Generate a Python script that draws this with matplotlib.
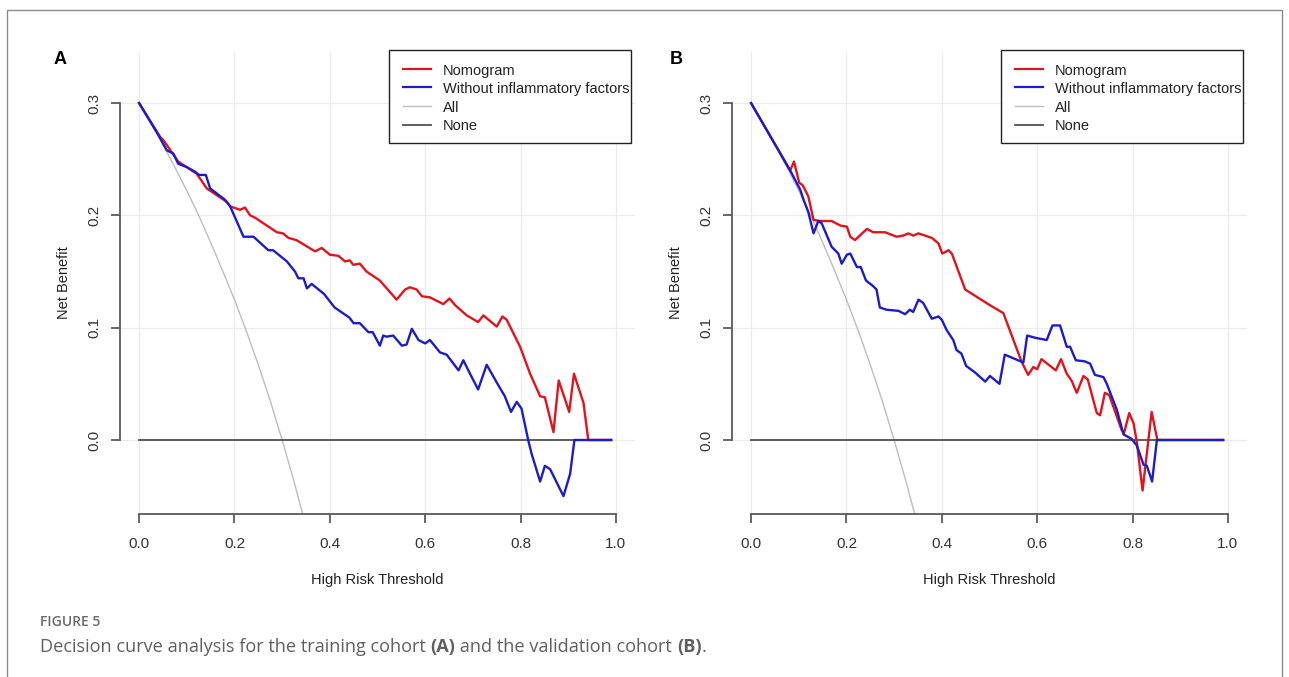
import matplotlib.pyplot as plt
from matplotlib.lines import Line2D
from matplotlib.patches import Rectangle

W, H = 1289, 677

# ---- data (threshold, net benefit) ----
all_x = [0.0, 0.025, 0.05, 0.075, 0.10, 0.125, 0.15, 0.175, 0.20, 0.225, 0.25,
         0.275, 0.30, 0.325, 0.35]
all_y = [0.300, 0.282, 0.263, 0.243, 0.222, 0.200, 0.176, 0.151, 0.125, 0.097,
         0.067, 0.035, 0.000, -0.037, -0.077]

none_x = [0.0, 0.99]
none_y = [0.0, 0.0]

# panel A: training cohort
a_nom_x = [0.0, 0.044, 0.051, 0.082, 0.121, 0.142, 0.184, 0.191, 0.212, 0.222, 0.233,
           0.243, 0.289, 0.302, 0.313, 0.330, 0.369, 0.383, 0.400, 0.418, 0.432, 0.442,
           0.449, 0.463, 0.477, 0.505, 0.540, 0.558, 0.568, 0.582, 0.593, 0.610, 0.638,
           0.651, 0.663, 0.687, 0.711, 0.722, 0.733, 0.750, 0.762, 0.771, 0.799, 0.820,
           0.841, 0.851, 0.869, 0.880, 0.902, 0.912, 0.932, 0.942, 0.99]
a_nom_y = [0.300, 0.270, 0.267, 0.248, 0.237, 0.224, 0.212, 0.208, 0.205, 0.207, 0.200,
           0.198, 0.185, 0.184, 0.180, 0.178, 0.168, 0.171, 0.165, 0.164, 0.159, 0.160,
           0.156, 0.157, 0.150, 0.142, 0.125, 0.134, 0.136, 0.134, 0.128, 0.127, 0.121,
           0.126, 0.120, 0.111, 0.105, 0.111, 0.107, 0.101, 0.110, 0.107, 0.083, 0.059,
           0.039, 0.038, 0.007, 0.053, 0.025, 0.059, 0.033, 0.000, 0.000]

a_wo_x = [0.0, 0.040, 0.058, 0.072, 0.082, 0.100, 0.117, 0.126, 0.140, 0.149, 0.180,
          0.191, 0.219, 0.240, 0.271, 0.281, 0.310, 0.327, 0.334, 0.345, 0.352, 0.362,
          0.388, 0.410, 0.441, 0.450, 0.463, 0.481, 0.490, 0.505, 0.512, 0.519, 0.533,
          0.551, 0.561, 0.572, 0.586, 0.600, 0.610, 0.631, 0.645, 0.670, 0.680, 0.694,
          0.711, 0.729, 0.753, 0.767, 0.780, 0.792, 0.802, 0.816, 0.823, 0.841, 0.851,
          0.862, 0.890, 0.904, 0.913, 0.99]
a_wo_y = [0.300, 0.272, 0.258, 0.255, 0.246, 0.243, 0.239, 0.236, 0.236, 0.224, 0.214,
          0.208, 0.181, 0.181, 0.169, 0.169, 0.159, 0.150, 0.144, 0.144, 0.135, 0.139,
          0.130, 0.118, 0.109, 0.104, 0.104, 0.096, 0.096, 0.084, 0.093, 0.092, 0.093,
          0.084, 0.085, 0.099, 0.089, 0.086, 0.089, 0.078, 0.076, 0.062, 0.071, 0.059,
          0.045, 0.067, 0.049, 0.039, 0.025, 0.034, 0.028, 0.000, -0.012, -0.037, -0.023,
          -0.026, -0.050, -0.030, 0.000, 0.000]

# panel B: validation cohort
b_nom_x = [0.0, 0.082, 0.090, 0.101, 0.108, 0.120, 0.131, 0.145, 0.169, 0.187, 0.201,
           0.208, 0.218, 0.243, 0.256, 0.281, 0.305, 0.319, 0.330, 0.340, 0.351, 0.379,
           0.393, 0.401, 0.414, 0.421, 0.449, 0.501, 0.529, 0.567, 0.581, 0.592, 0.600,
           0.609, 0.639, 0.650, 0.662, 0.672, 0.683, 0.697, 0.706, 0.725, 0.732, 0.742,
           0.751, 0.777, 0.782, 0.793, 0.802, 0.809, 0.821, 0.840, 0.852, 0.99]
b_nom_y = [0.300, 0.240, 0.248, 0.229, 0.227, 0.217, 0.196, 0.195, 0.195, 0.191, 0.190,
           0.181, 0.178, 0.188, 0.185, 0.185, 0.181, 0.182, 0.184, 0.182, 0.184, 0.180,
           0.175, 0.166, 0.169, 0.166, 0.134, 0.120, 0.113, 0.070, 0.058, 0.065, 0.063,
           0.072, 0.062, 0.072, 0.059, 0.053, 0.042, 0.057, 0.054, 0.024, 0.022, 0.042,
           0.040, 0.009, 0.006, 0.024, 0.015, -0.002, -0.045, 0.025, 0.000, 0.000]

b_wo_x = [0.0, 0.082, 0.103, 0.110, 0.120, 0.131, 0.141, 0.148, 0.169, 0.183, 0.190,
          0.201, 0.208, 0.222, 0.230, 0.241, 0.256, 0.263, 0.270, 0.284, 0.309, 0.323,
          0.333, 0.340, 0.351, 0.361, 0.379, 0.393, 0.400, 0.410, 0.424, 0.431, 0.441,
          0.451, 0.470, 0.491, 0.501, 0.521, 0.532, 0.571, 0.579, 0.596, 0.620, 0.632,
          0.648, 0.662, 0.669, 0.681, 0.700, 0.711, 0.721, 0.739, 0.746, 0.767, 0.781,
          0.798, 0.809, 0.823, 0.830, 0.841, 0.851, 0.99]
b_wo_y = [0.300, 0.240, 0.223, 0.214, 0.203, 0.184, 0.195, 0.193, 0.172, 0.166, 0.157,
          0.165, 0.166, 0.154, 0.154, 0.142, 0.137, 0.134, 0.118, 0.116, 0.115, 0.112,
          0.116, 0.114, 0.125, 0.122, 0.108, 0.110, 0.107, 0.098, 0.089, 0.080, 0.077,
          0.066, 0.060, 0.052, 0.057, 0.050, 0.076, 0.069, 0.093, 0.091, 0.089, 0.102,
          0.102, 0.083, 0.083, 0.071, 0.070, 0.068, 0.058, 0.056, 0.050, 0.027, 0.005,
          0.001, -0.005, -0.022, -0.023, -0.037, 0.000, 0.000]

series_labels = ['Nomogram', 'Without inflammatory factors', 'All', 'None']
x_ticks = [0.0, 0.2, 0.4, 0.6, 0.8, 1.0]
y_ticks = [0.0, 0.1, 0.2, 0.3]

RED = '#e0141c'
BLUE = '#1c1cc8'
GREY_ALL = '#bdbdbd'
GREY_NONE = '#505050'
AXC = '#5a5a5a'
series_colors = [RED, BLUE, GREY_ALL, GREY_NONE]
series_lw = [1.6, 1.6, 1.0, 1.3]

plt.rcParams['font.family'] = ['Liberation Sans', 'DejaVu Sans']

fig = plt.figure(figsize=(W / 100, H / 100), dpi=100)


def fx(px):
    return px / W


def fy(py):
    return 1 - py / H


# outer frame of the figure panel
fig.patches.append(Rectangle((fx(7), -0.05), (W - 14) / W, fy(10) + 0.05,
                             transform=fig.transFigure, fill=False,
                             edgecolor='#8a8a8a', lw=1.0))


def draw_legend(off):
    # R-style legend box, placed in figure pixels (offset per panel)
    fig.patches.append(Rectangle((fx(389 + off), fy(143)), (631 - 389) / W, (143 - 50) / H,
                                 transform=fig.transFigure, facecolor='white',
                                 edgecolor='#222222', lw=1.0, zorder=5))
    rows = [69, 87, 106, 124.5]
    for lab, col, lw, ry in zip(series_labels, series_colors, series_lw, rows):
        fig.lines.append(Line2D([fx(403 + off), fx(431 + off)], [fy(ry), fy(ry)],
                                transform=fig.transFigure, color=col, lw=lw, zorder=6))
        fig.text(fx(443 + off), fy(ry + 1.5), lab, fontsize=10.5, color='#222222',
                 va='center', ha='left', zorder=6)


def draw_panel(ax, nom_x, nom_y, wo_x, wo_y):
    ax.set_xlim(-0.04, 1.04)
    ax.set_ylim(-0.0659, 0.3455)
    ax.set_xticks(x_ticks)
    ax.set_yticks(y_ticks)
    ax.set_xticklabels([f'{t:.1f}' for t in x_ticks])
    ax.set_yticklabels([f'{t:.1f}' for t in y_ticks], rotation=90, va='center')
    ax.grid(True, color='#ececec', lw=0.9)
    ax.set_axisbelow(True)
    for s in ['top', 'right']:
        ax.spines[s].set_visible(False)
    ax.spines['left'].set_bounds(0, 0.3)
    ax.spines['bottom'].set_bounds(0, 1)
    for s in ['left', 'bottom']:
        ax.spines[s].set_color(AXC)
        ax.spines[s].set_linewidth(1.3)
    ax.tick_params(direction='out', length=6.5, width=1.3, color=AXC,
                   labelcolor='#333333', labelsize=11)
    ax.tick_params(axis='x', pad=10)
    ax.tick_params(axis='y', pad=7)

    ax.plot(all_x, all_y, color=GREY_ALL, lw=1.0)
    ax.plot(none_x, none_y, color=GREY_NONE, lw=1.3)
    ax.plot(nom_x, nom_y, color=RED, lw=1.7)
    ax.plot(wo_x, wo_y, color=BLUE, lw=1.7)

    ax.set_xlabel('High Risk Threshold', fontsize=10.5, color='#222222', labelpad=16)
    ax.set_ylabel('Net Benefit', fontsize=10.5, color='#222222', labelpad=12)


axA = fig.add_axes([fx(120), fy(514), 515 / W, 462 / H])
axB = fig.add_axes([fx(732), fy(514), 515 / W, 462 / H])
draw_panel(axA, a_nom_x, a_nom_y, a_wo_x, a_wo_y)
draw_panel(axB, b_nom_x, b_nom_y, b_wo_x, b_wo_y)
draw_legend(0)
draw_legend(612)

fig.text(fx(60), fy(60), 'A', fontsize=13, fontweight='bold', ha='center', va='center')
fig.text(fx(676), fy(60), 'B', fontsize=13, fontweight='bold', ha='center', va='center')

# caption
cap_font = ['Open Sans', 'DejaVu Sans']
fig.text(fx(40), fy(622), 'FIGURE 5', fontsize=10, fontweight='semibold',
         color='#6a6a6a', family=cap_font, va='center')

pieces = [('Decision curve analysis for the training cohort ', 'normal'),
          ('(A)', 'bold'),
          (' and the validation cohort ', 'normal'),
          ('(B)', 'bold'),
          ('.', 'normal')]
fig.canvas.draw()
renderer = fig.canvas.get_renderer()
x0 = 40
for txt, wt in pieces:
    t = fig.text(fx(x0), fy(647), txt, fontsize=13.1, fontweight=wt,
                 color='#5f5f5f', family=cap_font, va='center')
    bb = t.get_window_extent(renderer=renderer)
    x0 += bb.width

fig.savefig('out.png', dpi=100)
